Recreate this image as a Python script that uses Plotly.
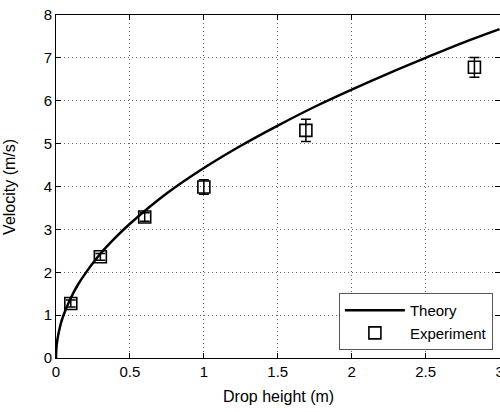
import plotly.graph_objects as go

# Theory curve
theory_h = [0.0, 0.002, 0.01, 0.03, 0.05, 0.1, 0.15, 0.2, 0.3, 0.4, 0.5, 0.75, 1.0, 1.25, 1.5, 1.75, 2.0, 2.25, 2.5, 2.75, 3.0]
theory_v = [0.0, 0.2, 0.44, 0.77, 0.99, 1.40, 1.72, 1.98, 2.43, 2.80, 3.13, 3.84, 4.43, 4.95, 5.42, 5.86, 6.26, 6.64, 7.00, 7.35, 7.67]

# Experiment
exp_h = [0.1, 0.3, 0.6, 1.0, 1.69, 2.83]
exp_v = [1.27, 2.36, 3.29, 3.99, 5.31, 6.78]
exp_err = [0.08, 0.08, 0.1, 0.17, 0.26, 0.23]

x_ticks = [0, 0.5, 1, 1.5, 2, 2.5, 3]
x_labels = ["0", "0.5", "1", "1.5", "2", "2.5", "3"]
y_ticks = [0, 1, 2, 3, 4, 5, 6, 7, 8]

x_title = "Drop height (m)"
y_title = "Velocity (m/s)"

font = "Liberation Sans, Arial, sans-serif"
fs = 15

fig = go.Figure()
fig.add_trace(go.Scatter(x=theory_h, y=theory_v, mode="lines", name="Theory",
                         line=dict(color="black", width=2.5, shape="spline")))
fig.add_trace(go.Scatter(x=exp_h, y=exp_v, mode="markers", name="Experiment",
                         marker=dict(symbol="square-open", size=12, color="black",
                                     line=dict(width=1.6, color="black")),
                         error_y=dict(type="data", array=exp_err, color="black",
                                      thickness=1.5, width=5)))

axis_common = dict(showline=True, linecolor="black", linewidth=1, mirror="ticks",
                   ticks="inside", ticklen=5, tickcolor="black",
                   showgrid=True, gridcolor="#666666", griddash="1px,3px", gridwidth=1,
                   zeroline=False, automargin=False, ticklabeloverflow="allow",
                   tickfont=dict(family=font, size=fs, color="black"))

fig.update_layout(
    width=500, height=412,
    margin=dict(l=56, r=0, t=15, b=54),
    paper_bgcolor="white", plot_bgcolor="white",
    font=dict(family=font, size=fs, color="black"),
    xaxis=dict(range=[0, 3.003], tickvals=x_ticks, ticktext=x_labels, **axis_common),
    yaxis=dict(range=[0, 8], tickvals=y_ticks, **axis_common),
    legend=dict(x=0.984, y=0.023, xanchor="right", yanchor="bottom",
                bgcolor="white", bordercolor="#555555", borderwidth=1,
                font=dict(family=font, size=fs), itemwidth=60,
                tracegroupgap=0),
    showlegend=True,
    annotations=[
        dict(text=x_title, xref="paper", yref="paper", x=0.5, y=-0.111,
             xanchor="center", yanchor="middle", showarrow=False,
             font=dict(family=font, size=16, color="black")),
        dict(text=y_title, xref="paper", yref="paper", x=-0.105, y=0.5,
             xanchor="center", yanchor="middle", showarrow=False, textangle=-90,
             font=dict(family=font, size=16, color="black")),
    ],
)

fig.write_html("out.html", config={"displayModeBar": False},
               post_script="document.body.style.margin='0';")
